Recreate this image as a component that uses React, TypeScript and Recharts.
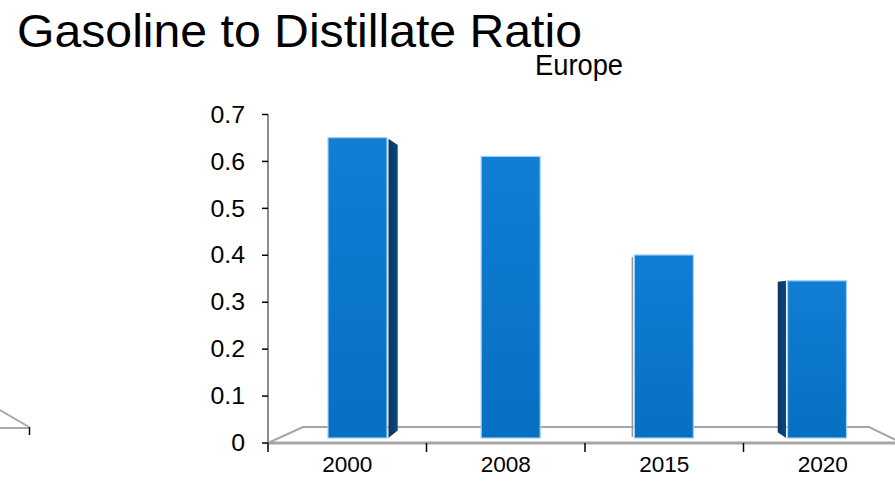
import { BarChart, Bar, XAxis, YAxis } from "recharts";

const years = ["2000", "2008", "2015", "2020"];
const ratios = [0.64, 0.6, 0.39, 0.335];
const yTicks = [0, 0.1, 0.2, 0.3, 0.4, 0.5, 0.6, 0.7];

const data = years.map((year, i) => ({ year, ratio: ratios[i] }));

const FONT = "'Liberation Sans', Arial, Helvetica, sans-serif";

// plot box (chart is a bit wider than the window, right side gets cut like the original)
const CHART_W = 910;
const CHART_H = 494;
const Y_AXIS_W = 268;
const X_AXIS_H = 51;
const TOP = 114.5;
const RIGHT = 8;
const PLOT_L = Y_AXIS_W;
const PLOT_R = CHART_W - RIGHT;
const PLOT_B = CHART_H - X_AXIS_H;
const DEPTH = 16; // floor depth
const LIFT = 5; // bars stand a bit behind the front edge
const VIEW_X = 645; // where the "camera" sits for the fake 3d

function Bar3D(props: any) {
  const { x, y, width, height } = props;
  if (width == null || height == null) return null;
  const c = x + width / 2;
  const dx = (VIEW_X - c) * 0.0336;
  const L = x + dx;
  const R = L + width;
  const top = y - LIFT;
  const bottom = y + height - LIFT;
  const fw = Math.abs(VIEW_X - c) * 0.031;
  let face = null;
  if (fw >= 5) {
    if (c < VIEW_X) {
      face = (
        <polygon
          points={`${R + 1.5},${top + 1} ${R + 1.5 + fw},${top + 1 + fw * 0.7} ${R + 1.5 + fw},${bottom - fw * 0.8} ${R + 1.5},${bottom}`}
          fill="url(#sideGrad)"
        />
      );
    } else {
      const w = fw * 1.5;
      face = (
        <polygon
          points={`${L - 1.5 - w},${top + 1} ${L - 1.5},${top} ${L - 1.5},${bottom} ${L - 1.5 - w},${bottom - w * 0.7}`}
          fill="url(#sideGrad)"
        />
      );
    }
  } else if (fw >= 0.3 && c > VIEW_X) {
    face = <line x1={L - 2} y1={top + 2} x2={L - 2} y2={bottom - 1} stroke="#9a9a9a" strokeWidth={1.5} />;
  }
  return (
    <g>
      {face}
      <rect x={L} y={top} width={width} height={height} fill="url(#barGrad)" stroke="#9fd0f4" strokeWidth={1.2} />
    </g>
  );
}

function YearTick(props: any) {
  const { x, y, payload } = props;
  const half = payload && payload.offset ? payload.offset : (PLOT_R - PLOT_L) / years.length / 2;
  return (
    <g>
      <line x1={x - half} y1={PLOT_B} x2={x - half} y2={PLOT_B + 9} stroke="#000" strokeWidth={1.5} />
      <g transform={`translate(${x},${y}) scale(1.05,1)`}>
        <text x={0} y={0} dy="0.71em" textAnchor="middle" fontSize={21.5} fontFamily={FONT} fill="#000">
          {payload.value}
        </text>
      </g>
    </g>
  );
}

function RatioTick(props: any) {
  const { x, y, payload } = props;
  const v = payload.value as number;
  return (
    <g transform={`translate(${x},${y}) scale(1.08,1)`}>
      <text x={0} y={0} dy="0.355em" textAnchor="end" fontSize={23} fontFamily={FONT} fill="#000">
        {v === 0 ? "0" : v.toFixed(1)}
      </text>
    </g>
  );
}

export default function App() {
  const backY = PLOT_B - DEPTH;
  return (
    <div style={{ position: "absolute", left: 0, top: 0, width: 895, height: 494, overflow: "hidden", background: "#fff" }}>
      {/* floor behind the bars */}
      <svg width={CHART_W} height={CHART_H} style={{ position: "absolute", left: 0, top: 0 }}>
        <polyline
          points={`${PLOT_L},${PLOT_B} ${PLOT_L + 35},${backY} ${PLOT_R - 33},${backY} ${PLOT_R},${PLOT_B}`}
          fill="none"
          stroke="#a6a6a6"
          strokeWidth={2}
        />
        {/* piece of the neighbouring chart on the left */}
        <line x1={0} y1={410} x2={29} y2={427} stroke="#aaa" strokeWidth={2} />
        <line x1={0} y1={428} x2={29} y2={428} stroke="#aaa" strokeWidth={2} />
        <line x1={29.5} y1={427} x2={29.5} y2={435} stroke="#000" strokeWidth={1.5} />
      </svg>

      <div style={{ position: "absolute", left: 0, top: 0 }}>
        <BarChart width={CHART_W} height={CHART_H} data={data} margin={{ top: TOP, right: RIGHT, bottom: 0, left: 0 }} barSize={59}>
          <defs>
            <linearGradient id="barGrad" x1="0" y1="0" x2="0" y2="1">
              <stop offset="0%" stopColor="#117ed4" />
              <stop offset="100%" stopColor="#0670c2" />
            </linearGradient>
            <linearGradient id="sideGrad" x1="0" y1="0" x2="1" y2="0">
              <stop offset="0%" stopColor="#0d3560" />
              <stop offset="100%" stopColor="#0a4a82" />
            </linearGradient>
          </defs>
          <XAxis
            dataKey="year"
            height={X_AXIS_H}
            axisLine={{ stroke: "#a6a6a6", strokeWidth: 3 }}
            tickLine={false}
            tickSize={9}
            tickMargin={5}
            tick={<YearTick />}
            interval={0}
          />
          <YAxis
            width={Y_AXIS_W}
            domain={[0, 0.7]}
            ticks={yTicks}
            interval={0}
            axisLine={{ stroke: "#8c8c8c", strokeWidth: 2 }}
            tickLine={{ stroke: "#000", strokeWidth: 1.5 }}
            tickSize={6}
            tickMargin={17}
            tick={<RatioTick />}
          />
          <Bar dataKey="ratio" isAnimationActive={false} shape={<Bar3D />} />
        </BarChart>
      </div>

      {/* titles */}
      <svg width={895} height={100} style={{ position: "absolute", left: 0, top: 0, pointerEvents: "none" }}>
        <text x={17} y={47} fontSize={47} fontFamily={FONT} fill="#000" textLength={565} lengthAdjust="spacingAndGlyphs">
          Gasoline to Distillate Ratio
        </text>
        <text x={535} y={75} fontSize={29} fontFamily={FONT} fill="#000" textLength={88} lengthAdjust="spacingAndGlyphs">
          Europe
        </text>
      </svg>
    </div>
  );
}
